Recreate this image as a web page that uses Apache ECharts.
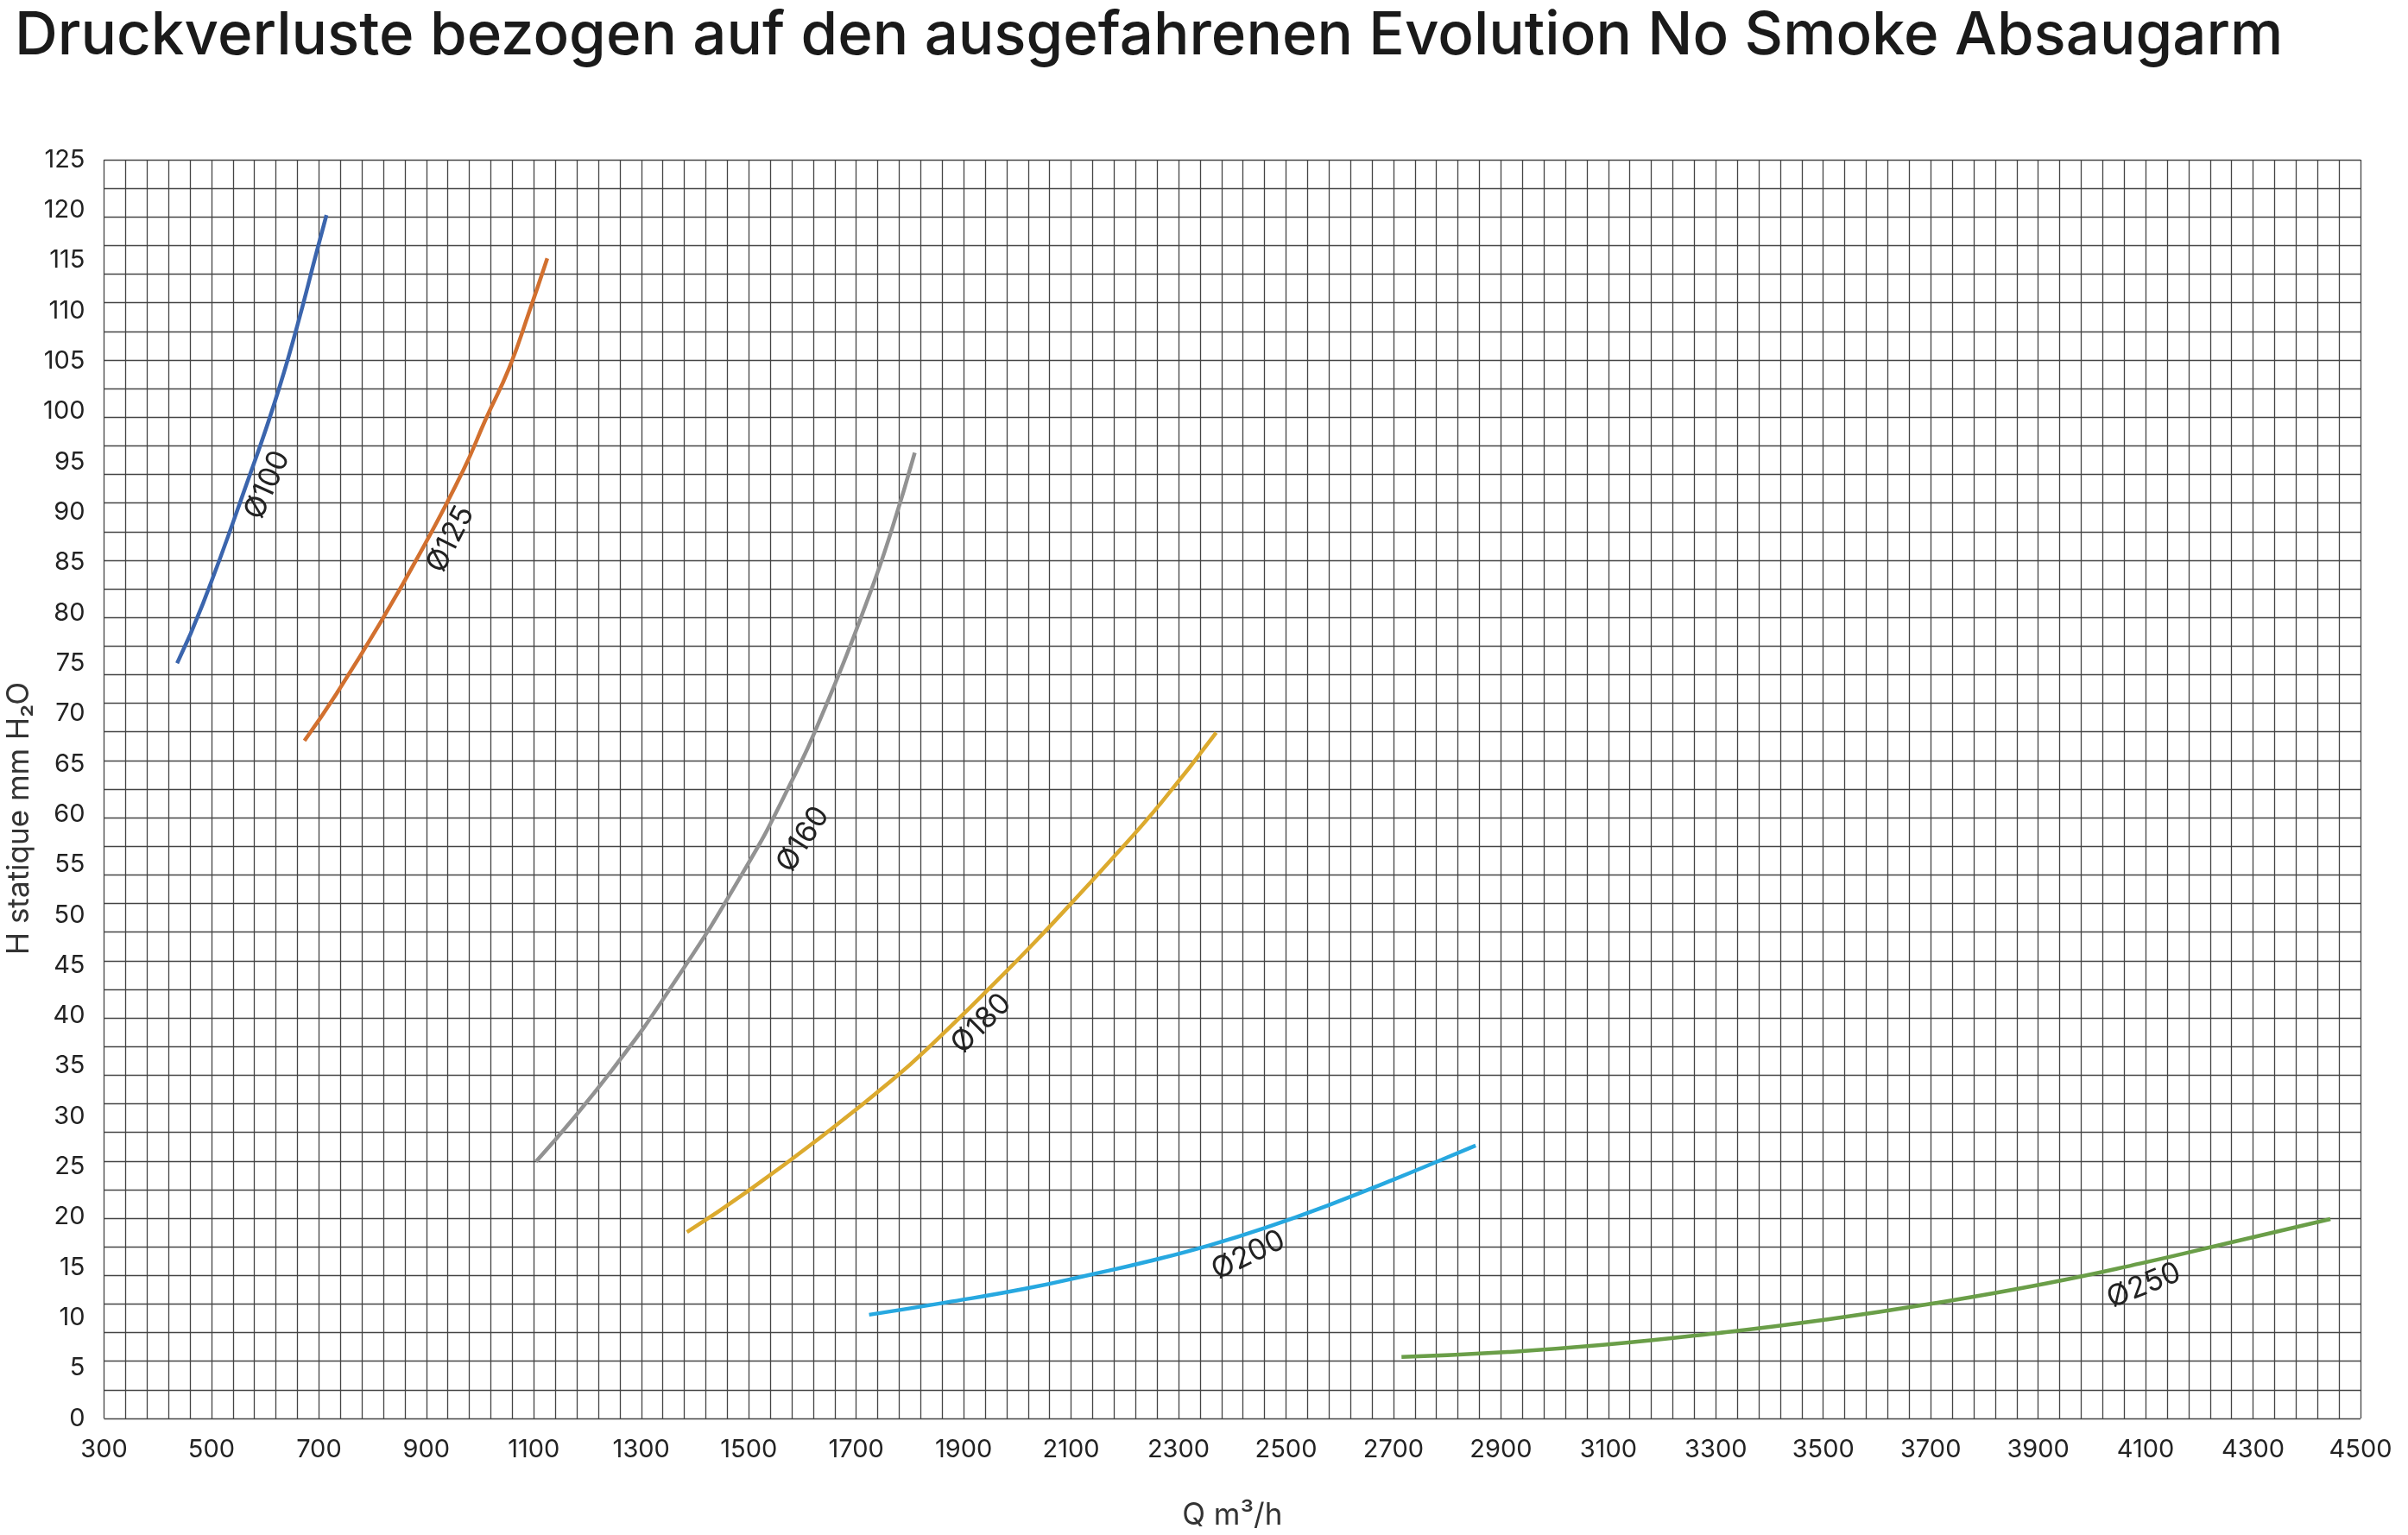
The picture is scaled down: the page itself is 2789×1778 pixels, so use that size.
<!DOCTYPE html>
<html>
<head>
<meta charset="utf-8">
<script src="https://cdn.jsdelivr.net/npm/echarts@6/dist/echarts.min.js"></script>
<style>
  html, body { margin: 0; padding: 0; background: #fff; }
  #chart { width: 2789px; height: 1778px; }
</style>
</head>
<body>
<div id="chart"></div>
<script>
// Q (m3/h) / H (mm H2O) pairs
var d100 = [[436,75.0],[484,80.9],[572,93.8],[617,100.8],[657,108.0],[696,115.9],[714,119.5]];
var d125 = [[673,67.3],[733,72.0],[813,78.9],[894,86.5],[969,94.2],[1011,99.3],[1054,104.3],[1092,110.0],[1125,115.2]];
var d160 = [[1104,25.5],[1247,34.7],[1370,44.0],[1488,54.1],[1568,62.0],[1643,70.7],[1724,81.7],[1767,88.4],[1809,95.9]];
var d180 = [[1385,18.5],[1499,22.6],[1643,28.3],[1767,33.6],[1842,37.2],[1959,43.3],[2045,48.0],[2120,52.3],[2163,54.8],[2267,61.1],[2370,68.1]];
var d200 = [[1724,10.3],[1865,11.5],[2016,12.9],[2138,14.3],[2244,15.6],[2358,17.2],[2471,19.1],[2585,21.3],[2699,23.7],[2790,25.7],[2853,27.1]];
var d250 = [[2715,6.1],[2913,6.6],[3090,7.3],[3290,8.4],[3502,9.8],[3702,11.4],[3914,13.4],[4091,15.4],[4268,17.6],[4444,19.8]];

var names = ['Ø100','Ø125','Ø160','Ø180','Ø200','Ø250'];
var colors = ['#3b65ad','#d2702f','#929292','#dcaa2e','#27a8e0','#6a9e48'];
var labelAt = [[604,92.7],[945,87.3],[1601,57.5],[1933,39.2],[2430,16.2],[4097,13.2]];
var labelAngle = [66,63,57,45,26,22];

// axis ranges and the background paper grid (105 x 44 cells)
var xMin = 300, xMax = 4500, xStep = 200;
var yMin = 0, yMax = 125, yStep = 5;
var gridCols = 105, gridRows = 44;

var font = 'Inter, "Noto Sans", sans-serif';
var allData = [d100, d125, d160, d180, d200, d250];

var series = [];
for (var i = 0; i < allData.length; i++) {
  series.push({
    name: names[i],
    type: 'line',
    xAxisIndex: 0,
    yAxisIndex: 0,
    smooth: 0.5,
    showSymbol: false,
    silent: true,
    data: allData[i],
    lineStyle: { color: colors[i], width: 4.5, cap: 'butt' },
    markPoint: {
      symbol: 'circle',
      symbolSize: 1,
      itemStyle: { color: 'rgba(0,0,0,0)' },
      label: {
        show: true,
        formatter: names[i],
        rotate: labelAngle[i],
        position: 'inside',
        color: '#222',
        fontSize: 34,
        fontFamily: font
      },
      data: [{ coord: labelAt[i] }]
    }
  });
}

var chart = echarts.init(document.getElementById('chart'));
chart.setOption({
  backgroundColor: '#fff',
  animation: false,
  title: {
    text: 'Druckverluste bezogen auf den ausgefahrenen Evolution No Smoke Absaugarm',
    left: 12,
    top: 3,
    textStyle: { fontFamily: font, fontWeight: 500, fontSize: 69, color: '#1a1a1a' }
  },
  graphic: [{
    type: 'text',
    x: 22,
    y: 948,
    rotation: Math.PI / 2,
    style: {
      text: 'H statique mm H₂O',
      fontFamily: font,
      fontSize: 35,
      fill: '#333',
      align: 'center',
      verticalAlign: 'middle'
    }
  }],
  grid: { left: 120.5, right: 55, top: 185, bottom: 132, show: false },
  xAxis: [{
    type: 'value',
    min: xMin, max: xMax, interval: xStep,
    name: 'Q m³/h',
    nameLocation: 'middle',
    nameGap: 95,
    nameTextStyle: { fontFamily: font, fontSize: 35, color: '#333' },
    axisLine: { show: false },
    axisTick: { show: false },
    splitLine: { show: false },
    axisLabel: {
      fontFamily: font, fontSize: 29, color: '#222', margin: 22,
      formatter: function (v) { return String(v); }
    }
  }, {
    type: 'value',
    min: 0, max: gridCols, interval: 1,
    position: 'top',
    axisLine: { show: false },
    axisTick: { show: false },
    axisLabel: { show: false },
    splitLine: { show: true, lineStyle: { color: '#444', width: 1.3 } }
  }],
  yAxis: [{
    type: 'value',
    min: yMin, max: yMax, interval: yStep,
    axisLine: { show: false },
    axisTick: { show: false },
    splitLine: { show: false },
    axisLabel: {
      fontFamily: font, fontSize: 29, color: '#222', margin: 22,
      formatter: function (v) { return String(v); }
    }
  }, {
    type: 'value',
    min: 0, max: gridRows, interval: 1,
    position: 'right',
    axisLine: { show: false },
    axisTick: { show: false },
    axisLabel: { show: false },
    splitLine: { show: true, lineStyle: { color: '#444', width: 1.3 } }
  }],
  series: series
});
</script>
</body>
</html>
